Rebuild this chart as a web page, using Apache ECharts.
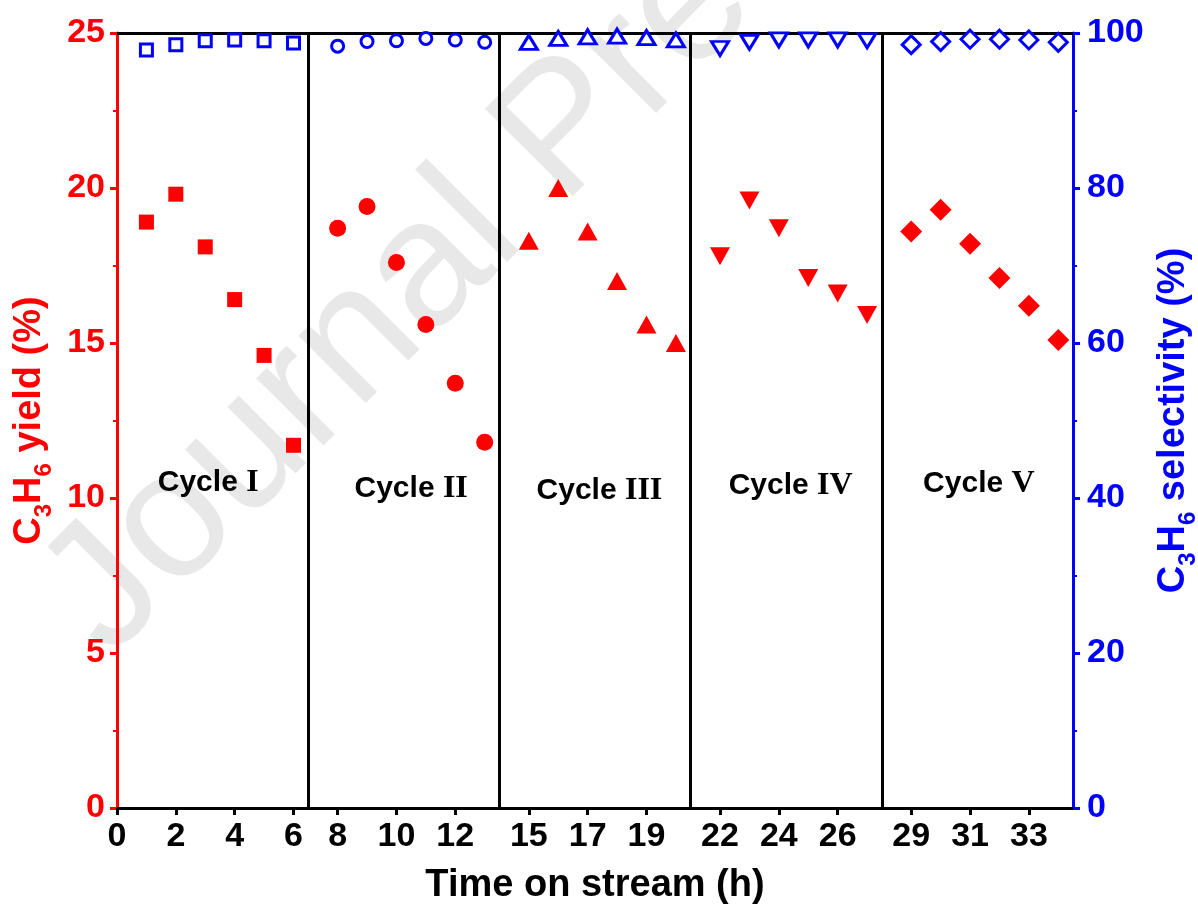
<!DOCTYPE html>
<html>
<head>
<meta charset="utf-8">
<script src="https://cdn.jsdelivr.net/npm/echarts@6/dist/echarts.min.js"></script>
<style>
  html, body { margin: 0; padding: 0; background: #fff; }
  #chart { width: 1198px; height: 905px; }
</style>
</head>
<body>
<div id="chart"></div>
<script>
// ---- Data (time on stream in hours) ----
const hoursCycle1 = [1, 2, 3, 4, 5, 6];
const hoursCycle2 = [8, 9, 10, 11, 12, 13];
const hoursCycle3 = [15, 16, 17, 18, 19, 20];
const hoursCycle4 = [22, 23, 24, 25, 26, 27];
const hoursCycle5 = [29, 30, 31, 32, 33, 34];

// C3H6 yield (%)
const yieldCycle1 = [18.9, 19.8, 18.1, 16.4, 14.6, 11.7];
const yieldCycle2 = [18.7, 19.4, 17.6, 15.6, 13.7, 11.8];
const yieldCycle3 = [18.3, 20.0, 18.6, 17.0, 15.6, 15.0];
const yieldCycle4 = [17.8, 19.6, 18.7, 17.1, 16.6, 15.9];
const yieldCycle5 = [18.6, 19.3, 18.2, 17.1, 16.2, 15.1];

// C3H6 selectivity (%)
const selCycle1 = [97.8, 98.5, 99.0, 99.1, 99.0, 98.7];
const selCycle2 = [98.3, 98.9, 99.0, 99.3, 99.1, 98.8];
const selCycle3 = [98.8, 99.3, 99.5, 99.6, 99.4, 99.1];
const selCycle4 = [98.0, 98.8, 99.1, 99.1, 99.1, 99.0];
const selCycle5 = [98.5, 98.9, 99.2, 99.2, 99.1, 98.8];

const xTickHours = [0, 2, 4, 6, 8, 10, 12, 15, 17, 19, 22, 24, 26, 29, 31, 33];
const dividerHours = [7, 14, 21, 28];
const cycleNames = ['I', 'II', 'III', 'IV', 'V'];
const cycleLabelHours = [3.1, 10.5, 17.4, 24.4, 31.3];
const cycleLabelY = [10.5, 10.3, 10.25, 10.4, 10.45];

// Broken time axis: each cycle boundary hour is compressed by half an hour.
const toAxis = h => h - 0.5 * Math.floor(h / 7);
const axisMax = toAxis(35);

const labelMap = {};
xTickHours.forEach(h => { labelMap[toAxis(h)] = String(h); });
const tickValues = xTickHours.map(toAxis);

const RED = '#ff0000';
const BLUE = '#0000ff';
const FONT = '"Liberation Sans", Arial, sans-serif';

function pts(hours, vals) { return hours.map((h, i) => [toAxis(h), vals[i]]); }

const yieldSets = [
  { h: hoursCycle1, v: yieldCycle1, symbol: 'rect', size: 15, rot: 0 },
  { h: hoursCycle2, v: yieldCycle2, symbol: 'circle', size: 17, rot: 0 },
  { h: hoursCycle3, v: yieldCycle3, symbol: 'triangle', size: [20, 18], rot: 0 },
  { h: hoursCycle4, v: yieldCycle4, symbol: 'triangle', size: [20, 18], rot: 180 },
  { h: hoursCycle5, v: yieldCycle5, symbol: 'diamond', size: [22, 22], rot: 0 }
];
const selSets = [
  { h: hoursCycle1, v: selCycle1, symbol: 'rect', size: 12, rot: 0 },
  { h: hoursCycle2, v: selCycle2, symbol: 'circle', size: 12, rot: 0 },
  { h: hoursCycle3, v: selCycle3, symbol: 'triangle', size: [17, 14], rot: 0 },
  { h: hoursCycle4, v: selCycle4, symbol: 'triangle', size: [17, 14], rot: 180 },
  { h: hoursCycle5, v: selCycle5, symbol: 'diamond', size: [18, 18], rot: 0 }
];

const series = [];
yieldSets.forEach((s, i) => {
  const ser = {
    type: 'scatter', xAxisIndex: 0, yAxisIndex: 0, z: 5,
    symbol: s.symbol, symbolSize: s.size, symbolRotate: s.rot,
    itemStyle: { color: RED, opacity: 1 },
    data: pts(s.h, s.v)
  };
  if (i === 0) {
    ser.markLine = {
      silent: true, symbol: ['none', 'none'], label: { show: false },
      lineStyle: { color: '#000', width: 3, type: 'solid', opacity: 1 },
      data: dividerHours.map(h => ({ xAxis: toAxis(h) }))
    };
  }
  series.push(ser);
});
selSets.forEach(s => {
  series.push({
    type: 'scatter', xAxisIndex: 0, yAxisIndex: 1, z: 5,
    symbol: s.symbol, symbolSize: s.size, symbolRotate: s.rot,
    itemStyle: { color: '#fff', borderColor: BLUE, borderWidth: 3, opacity: 1 },
    data: pts(s.h, s.v)
  });
});
series.push({
  type: 'scatter', xAxisIndex: 0, yAxisIndex: 0, z: 6, silent: true,
  symbolSize: 1, itemStyle: { color: 'rgba(0,0,0,0)', opacity: 1 },
  data: cycleNames.map((n, i) => ({ value: [toAxis(cycleLabelHours[i]), cycleLabelY[i]], name: n })),
  label: {
    show: true, position: 'inside', opacity: 1,
    formatter: p => '{a|Cycle }{r|' + p.name + '}',
    rich: {
      a: { fontFamily: FONT, fontWeight: 'bold', fontSize: 30, color: '#000' },
      r: { fontFamily: '"Liberation Serif", "Times New Roman", serif', fontWeight: 'bold', fontSize: 32, color: '#000' }
    }
  }
});

function nameRich(color) {
  return {
    n: { fontFamily: FONT, fontWeight: 'bold', fontSize: 38, color: color, lineHeight: 40, verticalAlign: 'top' },
    s: { fontFamily: FONT, fontWeight: 'bold', fontSize: 24, color: color, lineHeight: 24, verticalAlign: 'top', padding: [22, 0, 0, 0] }
  };
}

const option = {
  animation: false,
  backgroundColor: '#fff',
  graphic: [{
    type: 'text', z: -10, x: 138, y: 688, rotation: Math.PI / 4, silent: true,
    style: { text: 'Journal Pre-proof', font: '180px "Liberation Sans", Arial, sans-serif', fill: '#e8e8e8', align: 'left', verticalAlign: 'bottom' }
  }],
  grid: { left: 117, right: 125, top: 33, bottom: 97, containLabel: false, outerBoundsMode: 'none' },
  xAxis: [{
    type: 'value', position: 'bottom', min: 0, max: axisMax,
    splitLine: { show: false },
    axisLine: { show: true, onZero: false, lineStyle: { color: '#000', width: 3 } },
    axisTick: { show: true, customValues: tickValues, length: 7, lineStyle: { color: '#000', width: 3 } },
    axisLabel: {
      show: true, customValues: tickValues, margin: 12,
      formatter: v => labelMap[v] !== undefined ? labelMap[v] : '',
      fontFamily: FONT, fontWeight: 'bold', fontSize: 34, color: '#000'
    },
    name: 'Time on stream (h)', nameLocation: 'middle', nameGap: 59,
    nameTextStyle: { fontFamily: FONT, fontWeight: 'bold', fontSize: 38, color: '#000' }
  }, {
    type: 'value', position: 'top', min: 0, max: axisMax,
    splitLine: { show: false },
    axisLine: { show: true, onZero: false, lineStyle: { color: '#000', width: 3 } },
    axisTick: { show: false }, axisLabel: { show: false }
  }],
  yAxis: [{
    type: 'value', position: 'left', min: 0, max: 25, interval: 5,
    splitLine: { show: false },
    axisLine: { show: true, onZero: false, lineStyle: { color: RED, width: 3 } },
    axisTick: { show: true, length: 7, lineStyle: { color: RED, width: 3 } },
    minorTick: { show: true, splitNumber: 2, length: 4, lineStyle: { color: RED, width: 2 } },
    axisLabel: { margin: 12, fontFamily: FONT, fontWeight: 'bold', fontSize: 34, color: RED },
    name: '{n|C}{s|3}{n|H}{s|6}{n| yield (%)}', nameLocation: 'middle', nameRotate: 90, nameGap: 64,
    nameTextStyle: { rich: nameRich(RED) }
  }, {
    type: 'value', position: 'right', min: 0, max: 100, interval: 20,
    splitLine: { show: false },
    axisLine: { show: true, onZero: false, lineStyle: { color: BLUE, width: 3 } },
    axisTick: { show: true, length: 7, lineStyle: { color: BLUE, width: 3 } },
    minorTick: { show: true, splitNumber: 2, length: 4, lineStyle: { color: BLUE, width: 2 } },
    axisLabel: { margin: 14, fontFamily: FONT, fontWeight: 'bold', fontSize: 34, color: BLUE },
    name: '{n|C}{s|3}{n|H}{s|6}{n| selectivity (%)}', nameLocation: 'middle', nameRotate: 90, nameGap: 62,
    nameTextStyle: { rich: nameRich(BLUE) }
  }],
  series: series
};

const chart = echarts.init(document.getElementById('chart'), null, { renderer: 'canvas' });
chart.setOption(option);
</script>
</body>
</html>
